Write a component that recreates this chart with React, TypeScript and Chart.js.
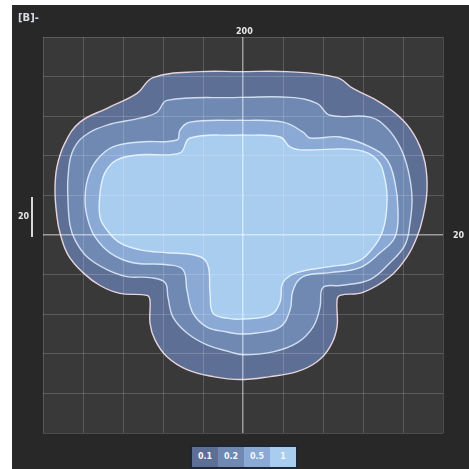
import React, { useEffect, useRef } from "react";
import { Chart, registerables } from "chart.js";

Chart.register(...registerables);

// contour levels (outer to inner)
const levels = ["0.1", "0.2", "0.5", "1"];

// outline points [x, y] for each level
const level01: [number, number][] = [
  [-3, 165], [44, 165], [94, 159], [110, 148], [137, 134], [160, 116], [174, 96], [182, 73], [184, 45], [180, 18],
  [174, -2], [164, -22], [147, -42], [120, -58], [97, -61], [94, -66], [94, -93], [87, -113], [74, -128], [54, -138],
  [27, -143], [-3, -146], [-30, -143], [-56, -136], [-76, -123], [-88, -106], [-93, -89], [-93, -66], [-96, -61],
  [-123, -59], [-143, -51], [-160, -38], [-175, -20], [-183, 2], [-186, 18], [-188, 45], [-186, 69], [-178, 93],
  [-163, 114], [-136, 128], [-106, 143], [-90, 159], [-43, 165], [-3, 165],
];
const level02: [number, number][] = [
  [-3, 139], [47, 139], [74, 133], [87, 121], [127, 119], [144, 108], [157, 89], [165, 66], [169, 38], [167, 12],
  [162, -10], [147, -28], [127, -45], [97, -51], [80, -53], [77, -73], [70, -93], [54, -109], [30, -118], [0, -121],
  [-13, -118], [-36, -111], [-56, -99], [-70, -83], [-75, -63], [-78, -48], [-93, -43], [-116, -42], [-136, -35],
  [-156, -22], [-168, -5], [-173, 10], [-175, 35], [-175, 58], [-171, 83], [-160, 99], [-136, 111], [-103, 118],
  [-86, 124], [-76, 136], [-3, 139],
];
const level05: [number, number][] = [
  [-3, 116], [40, 114], [60, 104], [67, 98], [97, 99], [127, 89], [144, 76], [152, 53], [155, 25], [152, -2],
  [137, -18], [117, -33], [87, -38], [60, -42], [50, -56], [47, -76], [37, -93], [14, -99], [-3, -100], [-16, -98],
  [-36, -93], [-50, -79], [-56, -56], [-60, -35], [-76, -30], [-110, -28], [-133, -18], [-148, -2], [-155, 15],
  [-158, 35], [-155, 58], [-146, 76], [-130, 89], [-103, 94], [-66, 96], [-63, 106], [-53, 114], [-3, 116],
];
const level1: [number, number][] = [
  [-3, 101], [37, 99], [47, 89], [57, 86], [114, 86], [134, 76], [142, 56], [144, 32], [140, 5], [130, -13],
  [114, -27], [87, -32], [54, -38], [40, -48], [37, -68], [27, -81], [-3, -85], [-16, -84], [-30, -79], [-33, -58],
  [-36, -28], [-50, -20], [-76, -18], [-103, -15], [-123, -8], [-136, 5], [-143, 18], [-143, 42], [-138, 63],
  [-126, 76], [-103, 81], [-63, 83], [-53, 98], [-3, 101],
];

const fills = ["#5d6f95", "#7089b2", "#8aaad5", "#a9cdef"];
const strokes = ["#e6d3dc", "#cfdcf0", "#d6e6f8", "#e2f0ff"];

const plotBg = {
  id: "plotBg",
  beforeDraw(chart: any) {
    const { ctx, chartArea } = chart;
    ctx.save();
    ctx.fillStyle = "#393939";
    ctx.fillRect(chartArea.left, chartArea.top, chartArea.right - chartArea.left, chartArea.bottom - chartArea.top);
    ctx.restore();
  },
};

export default function App() {
  const ref = useRef<HTMLCanvasElement>(null);
  useEffect(() => {
    document.body.style.margin = "0";
    const shapes = [level01, level02, level05, level1];
    const chart = new Chart(ref.current!, {
      type: "scatter",
      data: {
        datasets: shapes.map((pts, i) => ({
          label: levels[i],
          data: pts.map(([x, y]) => ({ x, y })),
          showLine: true,
          fill: "shape",
          backgroundColor: fills[i],
          borderColor: strokes[i],
          borderWidth: 1.4,
          pointRadius: 0,
          tension: 0.4,
          order: 4 - i,
        })),
      },
      options: {
        responsive: false,
        animation: false,
        devicePixelRatio: 1,
        layout: { padding: { left: 31, right: 26, top: 32, bottom: 36 } },
        plugins: { legend: { display: false }, tooltip: { enabled: false } },
        scales: {
          x: {
            type: "linear",
            min: -200,
            max: 200,
            ticks: { display: false, stepSize: 40 },
            border: { display: false },
            grid: {
              z: 1,
              drawTicks: false,
              color: (c: any) => (c.tick && c.tick.value === 0 ? "rgba(255,255,255,0.5)" : "rgba(255,255,255,0.17)"),
              lineWidth: (c: any) => (c.tick && c.tick.value === 0 ? 1.5 : 1),
            },
          },
          y: {
            type: "linear",
            min: -200,
            max: 200,
            ticks: { display: false, stepSize: 40 },
            border: { display: false },
            grid: {
              z: 1,
              drawTicks: false,
              color: (c: any) => (c.tick && c.tick.value === 0 ? "rgba(255,255,255,0.5)" : "rgba(255,255,255,0.17)"),
              lineWidth: (c: any) => (c.tick && c.tick.value === 0 ? 1.5 : 1),
            },
          },
        },
      },
      plugins: [plotBg],
    });
    return () => chart.destroy();
  }, []);

  const label: React.CSSProperties = {
    position: "absolute",
    color: "#e8e8e8",
    fontFamily: "'DejaVu Sans', sans-serif",
    fontWeight: "bold",
    fontSize: 8,
    lineHeight: "10px",
  };

  return (
    <div style={{ position: "relative", marginLeft: 12, marginTop: 5, width: 457, height: 464, background: "#282828", overflow: "hidden" }}>
      <canvas ref={ref} width={457} height={464} style={{ position: "absolute", left: 0, top: 0, width: 457, height: 464 }} />
      <span style={{ ...label, left: 6, top: 8, fontSize: 10, color: "#d8dbe6" }}>[B]-</span>
      <span style={{ ...label, left: 224, top: 22 }}>200</span>
      <span style={{ ...label, left: 6, top: 207 }}>20</span>
      <div style={{ position: "absolute", left: 19, top: 192, width: 2, height: 40, background: "#d8d8d8" }} />
      <span style={{ ...label, left: 441, top: 226 }}>20</span>
      <div style={{ position: "absolute", left: 178, top: 440, display: "flex", height: 20, border: "2px solid #1e2633" }}>
        {levels.map((l, i) => (
          <div key={l} style={{ width: 26, height: 20, background: fills[i], color: "#f4f6fb", fontFamily: "'DejaVu Sans', sans-serif", fontWeight: "bold", fontSize: 8, lineHeight: "20px", textAlign: "center" }}>
            {l}
          </div>
        ))}
      </div>
    </div>
  );
}
